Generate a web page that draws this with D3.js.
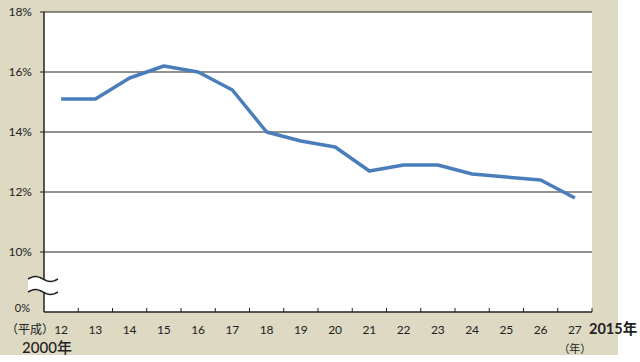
<!DOCTYPE html>
<html>
<head>
<meta charset="utf-8">
<script src="https://cdn.jsdelivr.net/npm/d3@7"></script>
<style>
  body { margin: 0; background: #fff; }
  svg text { font-family: Lato, "Noto Sans CJK JP", sans-serif; fill: #222; }
</style>
</head>
<body>
<div id="chart"></div>
<script>
// data (平成12年 = 2000 ... 平成27年 = 2015)
var years = ["12","13","14","15","16","17","18","19","20","21","22","23","24","25","26","27"];
var rates = [15.1, 15.1, 15.8, 16.2, 16.0, 15.4, 14.0, 13.7, 13.5, 12.7, 12.9, 12.9, 12.6, 12.5, 12.4, 11.8];
var yTicks = [10, 12, 14, 16, 18];

var W = 640, H = 362;
var margin = {top: 12, right: 48, bottom: 50, left: 44},
    width = W - margin.left - margin.right,
    height = H - margin.top - margin.bottom;

var root = d3.select("#chart")
  .append("svg")
    .attr("width", W)
    .attr("height", H);

// beige backdrop
root.append("rect")
  .attr("width", 618).attr("height", 355)
  .attr("fill", "#ddd9c3");

var svg = root.append("g")
  .attr("transform", "translate(" + margin.left + "," + margin.top + ")");

svg.append("rect")
  .attr("width", width).attr("height", height)
  .attr("fill", "#fff");

// x: one band per year
var x = d3.scaleBand().domain(years).range([0, width]);

// y: axis is broken, bottom edge stands for 0%
var y = d3.scaleLinear().domain([8, 18]).range([height, 0]);

// grid lines
svg.selectAll(".grid")
  .data(yTicks)
  .enter().append("line")
    .attr("x1", -4).attr("x2", width)
    .attr("y1", function(d) { return y(d); })
    .attr("y2", function(d) { return y(d); })
    .attr("stroke", "#222").attr("stroke-width", 1);

// y labels
svg.selectAll(".ylab")
  .data(yTicks)
  .enter().append("text")
    .attr("x", -12)
    .attr("y", function(d) { return y(d) + 4; })
    .attr("text-anchor", "end")
    .style("font-size", "12px")
    .text(function(d) { return d + "%"; });

svg.append("text")
  .attr("x", -14).attr("y", y(8))
  .attr("text-anchor", "end")
  .style("font-size", "11px")
  .text("0%");

// left axis
svg.append("line")
  .attr("x1", 0).attr("x2", 0)
  .attr("y1", 0).attr("y2", height)
  .attr("stroke", "#222").attr("stroke-width", 1.5);

// bottom axis with inward ticks
var xAxis = svg.append("g")
  .attr("transform", "translate(0," + height + ")");
xAxis.append("line")
  .attr("x1", 0).attr("x2", width)
  .attr("stroke", "#222").attr("stroke-width", 1.5);
xAxis.selectAll(".tick")
  .data(years)
  .enter().append("line")
    .attr("x1", function(d) { return x(d) + x.bandwidth(); })
    .attr("x2", function(d) { return x(d) + x.bandwidth(); })
    .attr("y1", 0).attr("y2", -4)
    .attr("stroke", "#222").attr("stroke-width", 1);
xAxis.selectAll(".xlab")
  .data(years)
  .enter().append("text")
    .attr("x", function(d) { return x(d) + x.bandwidth() / 2; })
    .attr("y", 22)
    .attr("text-anchor", "middle")
    .style("font-size", "12px")
    .text(function(d) { return d; });

// extra axis captions
xAxis.append("text")
  .attr("x", x("12") + x.bandwidth() / 2 - 7).attr("y", 22)
  .attr("text-anchor", "end")
  .style("font-size", "12px")
  .text("（平成）");
xAxis.append("text")
  .attr("x", 3).attr("y", 41)
  .attr("text-anchor", "middle")
  .style("font-size", "15px")
  .style("font-weight", "500")
  .text("2000年");
xAxis.append("text")
  .attr("x", x("27") + x.bandwidth() / 2).attr("y", 41)
  .attr("text-anchor", "middle")
  .style("font-size", "11px")
  .text("（年）");
xAxis.append("text")
  .attr("x", width - 3).attr("y", 22)
  .attr("text-anchor", "start")
  .style("font-size", "14.5px")
  .style("font-weight", "bold")
  .text("2015年");

// axis break marks
function wave(y0) {
  return d3.range(0, 31).map(function(i) {
    var t = i / 30;
    return [-16 + t * 30, y0 - 2.5 * Math.sin(t * 2 * Math.PI)];
  });
}
var w1 = wave(y(8.5) - 18), w2 = wave(y(8.5) - 5);
svg.append("path")
  .attr("d", d3.line()(w1.concat(w2.slice().reverse())) + "Z")
  .attr("fill", "#fff");
[w1, w2].forEach(function(w) {
  svg.append("path")
    .attr("d", d3.line().curve(d3.curveBasis)(w))
    .attr("fill", "none")
    .attr("stroke", "#222")
    .attr("stroke-width", 1.5);
});

// the line
svg.append("path")
  .datum(rates)
  .attr("fill", "none")
  .attr("stroke", "#4a7ebb")
  .attr("stroke-width", 3.5)
  .attr("stroke-linejoin", "round")
  .attr("d", d3.line()
    .x(function(d, i) { return x(years[i]) + x.bandwidth() / 2; })
    .y(function(d) { return y(d); })
  );
</script>
</body>
</html>
